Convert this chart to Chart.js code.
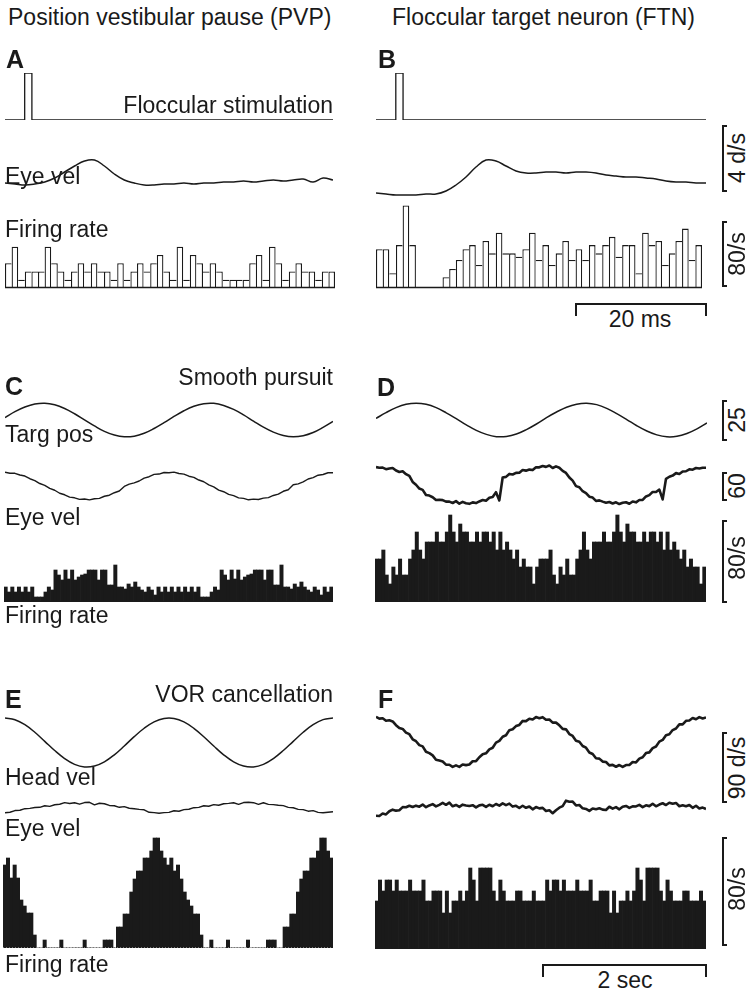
<!DOCTYPE html>
<html>
<head>
<meta charset="utf-8">
<script src="https://cdn.jsdelivr.net/npm/chart.js@4.4.1/dist/chart.umd.min.js"></script>
<style>
  html, body { margin: 0; padding: 0; background: #fff; }
  #page { position: relative; width: 750px; height: 995px; overflow: hidden; font-family: "Liberation Sans", Arial, Helvetica, sans-serif; color: #1a1a1a; }
  #page canvas { position: absolute; }
  .t { position: absolute; white-space: nowrap; font-size: 23px; line-height: 23px; }
  .b { font-weight: bold; font-size: 25px; line-height: 25px; }
  .rot { position: absolute; white-space: nowrap; font-size: 23px; line-height: 23px; transform: translate(-50%, -50%) rotate(-90deg); }
  .vb { position: absolute; border: 2px solid #1a1a1a; border-right: none; width: 5px; box-sizing: border-box; }
  .hb { position: absolute; border: 2px solid #1a1a1a; border-bottom: none; box-sizing: border-box; }
</style>
</head>
<body>
<div id="page"></div>
<script>
// ---- panels A/B: floccular stimulation, 0-50 ms, 1 ms bins ----
const stimTimes = [0, 3.0, 4.1, 50];      // ms
const stimLevels = [0, 1, 0, 0];

// eye velocity (d/s, arbitrary offset), sampled every 50/33 ms
const eyeVelA = [1.02,0.96,0.90,0.96,1.08,1.32,1.68,2.04,2.34,2.40,2.04,1.56,1.20,1.02,0.90,0.90,0.96,
                 0.96,1.02,0.96,1.02,1.02,1.08,1.08,1.14,1.08,1.14,1.20,1.14,1.20,1.26,1.08,1.32,1.20];
const eyeVelB = [0.42,0.36,0.30,0.30,0.30,0.36,0.36,0.54,0.90,1.38,1.98,2.40,2.34,2.04,1.74,1.62,1.62,
                 1.68,1.68,1.62,1.68,1.68,1.62,1.50,1.44,1.38,1.38,1.32,1.26,1.14,1.08,1.08,1.02,1.02];

// firing rate (spikes/s), 1 ms bins
const rateA = [30,50,10,20,20,20,50,30,20,10, 20,30,20,30,20,20,10,30,10,20,
               30,20,30,40,20,10,50,10,40,30, 20,30,20,10,10,10,10,30,40,10,
               50,30,10,20,30,20,20,10,20,20];
const rateB = [47,47,18,52,100,52,0,0,0,0, 13,23,34,47,52,28,57,42,67,42,
               42,38,47,67,34,52,28,42,57,34, 47,34,52,42,52,62,38,52,52,18,
               67,52,57,28,42,57,72,34,52];

// ---- panels C/D: smooth pursuit, 0-4 s ----
const targPosC = [1.5,5.2,8.1,10.0,10.5,9.5,7.2,3.9,0.1,-3.7,-7.1,-9.4,-10.5,-10.1,-8.3,-5.3,-1.7,
                  2.2,5.8,8.6,10.2,10.4,9.1,6.6,3.2,-0.7,-4.5,-7.6,-9.7,-10.5,-9.8,-7.8,-4.6,-0.9];
const targPosD = [1.0,4.6,7.7,9.8,10.5,9.8,7.7,4.5,0.8,-3.0,-6.5,-9.0,-10.4,-10.3,-8.8,-6.0,-2.5,
                  1.5,5.0,8.0,9.9,10.5,9.6,7.3,4.0,0.3,-3.6,-6.9,-9.3,-10.5,-10.2,-8.4,-5.5,-1.8];
const eyeVelC = [29.5,27.4,27.2,23.5,21.3,15.6,11.7,5.3,1.5,-5.1,-9.1,-15.5,-18.8,-23.9,-25.3,-28.7,-27.8,
                 -29.8,-27.3,-26.5,-22.0,-19.8,-14.4,-10.7,-1.0,4.0,6.8,10.7,17.0,19.9,24.8,25.6,28.9,28.3,
                 29.7,26.7,25.5,21.0,18.6,12.8,9.1,2.4,-2.0,-8.8,-12.3,-18.0,-20.6,-25.5,-26.6,-29.6,-28.2,
                 -28.9,-25.9,-24.8,-20.3,-17.4,-11.3,-8.0,2.7,4.6,8.7,15.0,18.0,23.1,24.7,28.4,28.4];
const eyeVelD = [40.5,39.1,39.3,36.1,37.6,38.7,33.2,30.1,31.5,25.3,21.5,8.8,2.7,-5.5,-8.3,-19.2,-20.5,-24.1,-30.1,-29.6,
                 -30.2,-33.4,-33.5,-36.4,-32.4,-37.9,-34.1,-37.1,-38.2,-35.1,-36.6,-33.1,-30.1,-31.6,-25.2,-23.5,-13.3,-30.9,18.3,19.5,
                 25.9,24.6,28.1,28.3,34.2,32.9,35.1,34.1,40.1,40.0,42.7,41.0,43.9,38.6,42.0,39.0,32.3,28.0,18.1,11.5,
                 -0.3,-2.7,-11.2,-15.2,-22.9,-24.8,-32.0,-30.8,-33.5,-35.9,-34.3,-37.5,-34.9,-38.7,-36.0,-34.7,-38.0,-33.1,-35.0,-30.1,
                 -29.7,-22.3,-19.6,-12.7,-12.8,-7.8,-28.7,15.4,19.8,22.3,27.6,25.8,31.1,31.6,35.8,34.9,38.5,37.6,39.2,39.1];
const rateC = [15,10,15,10,15,10,15,10,15,5, 5,5,10,15,12,32,27,22,32,23, 32,22,25,27,28,32,32,32,22,32,
               32,17,17,37,15,15,13,18,15,20, 15,12,10,15,12,7,15,10,15,10,
               15,10,15,10,15,10,15,10,15,5, 5,5,10,15,12,32,27,22,32,23, 32,22,25,27,28,32,32,32,22,32,
               32,17,17,37,15,15,13,18,15,20, 15,12,10,15,12,7,15,10,15];
const rateD = [43,43,52,27,18,35,27,43,27,27, 43,52,70,52,43,60,60,60,70,60, 60,70,87,70,60,78,70,70,60,60,
               70,60,70,70,60,70,52,70,52,60, 52,43,52,35,43,35,35,18,35,43,
               43,43,52,27,18,35,27,43,27,27, 43,52,70,52,43,60,60,60,70,60, 60,70,87,70,60,78,70,70,60,60,
               70,60,70,70,60,70,52,70,52,60, 52,43,52,35,43,35,35,18,35];

// ---- panels E/F: VOR cancellation, 0-4 s ----
const headVelE = [31.5,29.2,22.8,13.1,1.5,-10.3,-20.6,-28.0,-31.4,-30.2,-24.8,-15.8,-4.5,7.5,18.3,26.5,30.9,
                  30.9,26.5,18.2,7.4,-4.5,-15.8,-24.8,-30.2,-31.4,-28.0,-20.6,-10.3,1.5,13.1,22.8,29.3,31.5];
const eyeVelE = [-6.1,-5.5,-3.3,-2.9,-0.9,-0.5,0.6,0.9,2.9,2.1,4.2,4.8,6.9,5.8,6.7,4.9,7.0,7.3,4.0,6.1,
                 5.5,3.3,2.9,0.9,1.8,-0.3,-0.9,-1.8,-2.3,-5.5,-5.9,-6.7,-6.0,-5.6,-3.5,-4.2,-2.1,-1.6,0.4,0.8,
                 2.9,2.2,4.3,3.5,5.5,5.9,6.7,4.7,7.0,7.4,6.8,4.6,6.7,4.7,4.3,3.5,3.0,0.8,0.3,-1.7,
                 -2.1,-4.1,-3.4,-5.6,-6.1,-5.5,-4.9];
const headVelF = [32.2,29.9,30.4,27.2,27.8,26.4,21.5,17.9,16.8,12.1,10.0,3.5,1.0,-4.0,-5.6,-12.5,-14.2,-17.1,-22.8,-23.8,
                  -25.0,-29.0,-29.1,-31.9,-29.9,-31.8,-28.8,-29.6,-28.8,-24.6,-24.6,-19.5,-15.7,-14.5,-9.4,-7.4,-0.8,1.4,6.8,8.6,
                  15.2,16.4,20.4,21.9,27.0,26.7,29.8,28.8,31.9,30.5,31.8,28.5,28.8,24.8,24.8,21.4,16.8,16.2,10.2,7.7,
                  1.7,0.4,-5.1,-7.3,-13.4,-15.4,-20.8,-21.3,-25.1,-25.6,-29.9,-29.3,-31.7,-29.5,-32.0,-29.5,-29.5,-25.7,-26.2,-21.3,
                  -19.5,-14.2,-13.3,-7.8,-5.8,0.5,2.7,8.8,10.0,15.3,17.3,22.6,22.6,27.2,27.6,30.8,29.1,31.9,30.2,31.4];
const eyeVelF = [-10.0,-10.2,-7.1,-8.2,-4.2,-2.1,-3.4,-2.8,1.1,1.0,2.9,1.2,3.0,1.7,4.4,1.0,3.3,5.0,2.1,4.1,
                 6.5,4.1,6.9,2.2,3.9,1.5,4.3,3.3,2.5,3.6,0.8,3.4,4.1,1.4,4.2,2.2,5.1,3.1,6.0,3.7,
                 5.6,1.8,2.8,0.0,2.9,0.3,2.0,-1.7,1.2,-0.5,0.2,-3.9,-3.0,-6.7,-2.8,0.4,2.4,9.4,8.1,8.3,
                 3.3,3.8,-0.4,-1.2,-3.7,-0.6,-1.5,-0.3,-2.1,-2.6,1.6,-0.8,1.1,-1.7,1.6,2.6,0.1,2.1,2.0,4.1,
                 1.2,3.5,2.4,5.5,2.2,4.4,6.1,3.8,6.8,5.5,6.5,2.3,3.4,2.2,3.8,0.2,2.9,-0.7,0.5,-1.2];
const rateE = [83,90,70,83,70,48,42,35,35,13, 0,0,8,0,0,0,0,8,0,0, 0,0,0,0,8,0,0,0,0,0,
               8,8,8,0,21,21,34,34,56,69, 77,77,90,90,97,110,110,97,90,83,
               90,77,83,69,56,48,42,34,34,13, 0,0,8,0,0,0,0,8,0,0, 0,0,0,8,0,0,0,0,0,8,
               8,8,0,0,21,21,34,34,56,69, 77,77,90,90,97,110,110,97,90];
const rateF = [48,69,58,69,69,58,69,58,58,58, 69,58,58,58,69,48,48,58,58,58, 36,58,36,48,48,58,48,58,81,69,
               48,81,81,81,81,58,48,69,58,48, 48,48,58,58,48,48,48,58,48,48,
               48,69,58,69,69,58,69,58,58,58, 69,58,58,58,69,48,48,58,58,58, 36,58,36,48,48,58,48,58,81,69,
               48,81,81,81,81,58,48,69,58,48, 48,48,58,58,48,48,48,58,48];

const INK = '#1a1a1a';
const PAD = 4;
const page = document.getElementById('page');

Chart.register({
  id: 'baseline',
  defaults: { show: false, color: INK, width: 1.3, dash: [] },
  afterDatasetsDraw(chart, args, opts) {
    if (!opts.show) return;
    const { ctx, chartArea } = chart;
    const y = Math.round(chart.scales.y.getPixelForValue(0)) - 0.5;
    ctx.save();
    ctx.strokeStyle = opts.color;
    ctx.lineWidth = opts.width;
    ctx.setLineDash(opts.dash);
    ctx.beginPath();
    ctx.moveTo(chartArea.left, y);
    ctx.lineTo(chartArea.right, y);
    ctx.stroke();
    ctx.restore();
  }
});

function makeCanvas(box) {
  const c = document.createElement('canvas');
  c.width = box.w + 2 * PAD;
  c.height = box.h + 2 * PAD;
  c.style.left = (box.x - PAD) + 'px';
  c.style.top = (box.y - PAD) + 'px';
  page.appendChild(c);
  return c;
}

function baseOptions(xScale, yMin, yMax, extra) {
  return {
    responsive: false,
    animation: false,
    devicePixelRatio: 1,
    events: [],
    layout: { padding: PAD },
    plugins: { legend: { display: false }, tooltip: { enabled: false }, baseline: extra || {} },
    scales: { x: xScale, y: { display: false, min: yMin, max: yMax } }
  };
}

// line trace, samples evenly spread over [0, tMax]
function trace(box, tMax, yMin, yMax, values, width, tension) {
  const pts = values.map((v, i) => ({ x: i * tMax / (values.length - 1), y: v }));
  new Chart(makeCanvas(box), {
    type: 'line',
    data: { datasets: [{ data: pts, borderColor: INK, borderWidth: width, pointRadius: 0, tension: tension,
                         fill: false, borderJoinStyle: 'round' }] },
    options: baseOptions({ type: 'linear', display: false, min: 0, max: tMax }, yMin, yMax)
  });
}

function stim(box) {
  const pts = stimTimes.map((t, i) => ({ x: t, y: stimLevels[i] }));
  new Chart(makeCanvas(box), {
    type: 'line',
    data: { datasets: [{ data: pts, borderColor: INK, borderWidth: 1.3, pointRadius: 0, stepped: true, fill: false }] },
    options: baseOptions({ type: 'linear', display: false, min: 0, max: 50 }, 0, 1)
  });
}

// open histogram: each shared edge is drawn once, by the taller of the two bars
function histOpen(box, yMax, values) {
  const n = values.length;
  const w = 1.3;
  new Chart(makeCanvas(box), {
    type: 'bar',
    data: { labels: values.map((v, i) => i), datasets: [{
      data: values, backgroundColor: '#fff', borderColor: INK,
      borderWidth: ctx => {
        const i = ctx.dataIndex, d = values;
        return {
          top: w, bottom: 0,
          left: (i === 0 || d[i] >= d[i - 1]) ? w : 0,
          right: (i === n - 1 || d[i] > d[i + 1]) ? w : 0
        };
      },
      borderSkipped: false,
      barPercentage: 1, categoryPercentage: 1, inflateAmount: 0
    }] },
    options: baseOptions({ display: false }, 0, yMax, { show: true })
  });
}

function histFilled(box, yMax, values, base) {
  new Chart(makeCanvas(box), {
    type: 'bar',
    data: { labels: values.map((v, i) => i), datasets: [{
      data: values, backgroundColor: INK, borderWidth: 0,
      barPercentage: 1, categoryPercentage: 1
    }] },
    options: baseOptions({ display: false }, 0, yMax, base || { show: true, width: 1 })
  });
}

// ---- draw the traces ----
stim({ x: 5, y: 73, w: 328, h: 47 });
stim({ x: 376, y: 73, w: 330, h: 47 });
trace({ x: 5, y: 150, w: 328, h: 50 }, 50, 0, 3, eyeVelA, 1.5, 0.4);
trace({ x: 376, y: 150, w: 330, h: 50 }, 50, 0, 3, eyeVelB, 1.5, 0.4);
histOpen({ x: 5, y: 200, w: 330, h: 88 }, 106.7, rateA);
histOpen({ x: 376, y: 200, w: 326, h: 88 }, 106.7, rateB);

trace({ x: 5, y: 395, w: 328, h: 50 }, 4, -15.625, 15.625, targPosC, 1.5, 0.4);
trace({ x: 376, y: 395, w: 331, h: 50 }, 4, -15.625, 15.625, targPosD, 1.5, 0.4);
trace({ x: 5, y: 460, w: 328, h: 52 }, 4, -55.7, 55.7, eyeVelC, 1.4, 0);
trace({ x: 376, y: 460, w: 330, h: 52 }, 4, -55.7, 55.7, eyeVelD, 2.6, 0);
histFilled({ x: 4, y: 502, w: 329, h: 100 }, 100, rateC);
histFilled({ x: 375, y: 502, w: 331, h: 100 }, 100, rateD);

trace({ x: 5, y: 700, w: 328, h: 85 }, 4, -54.5, 54.5, headVelE, 1.5, 0.4);
trace({ x: 376, y: 700, w: 330, h: 84 }, 4, -53.8, 53.8, headVelF, 2.6, 0);
trace({ x: 5, y: 790, w: 328, h: 36 }, 4, -23.1, 23.1, eyeVelE, 1.4, 0);
trace({ x: 376, y: 790, w: 330, h: 36 }, 4, -23.1, 23.1, eyeVelF, 2.6, 0);
histFilled({ x: 3, y: 830, w: 330, h: 118 }, 118, rateE, { show: true, width: 1, color: '#777', dash: [1, 2] });
histFilled({ x: 375, y: 830, w: 331, h: 119 }, 119, rateF);

// ---- text and scale bars ----
function text(str, x, baseline, opt) {
  opt = opt || {};
  const d = document.createElement('div');
  d.className = 't' + (opt.bold ? ' b' : '');
  d.textContent = str;
  const size = opt.bold ? 25 : 23;
  d.style.top = (baseline - 0.8465 * size) + 'px';
  if (opt.right) d.style.right = (750 - x) + 'px';
  else if (opt.center) { d.style.left = x + 'px'; d.style.transform = 'translateX(-50%)'; }
  else d.style.left = x + 'px';
  page.appendChild(d);
}
function rotText(str, cx, cy) {
  const d = document.createElement('div');
  d.className = 'rot';
  d.textContent = str;
  d.style.left = cx + 'px';
  d.style.top = cy + 'px';
  page.appendChild(d);
}
function vBar(x, top, bottom) {
  const d = document.createElement('div');
  d.className = 'vb';
  d.style.left = x + 'px'; d.style.top = top + 'px'; d.style.height = (bottom - top) + 'px';
  page.appendChild(d);
}
function hBar(x1, x2, y, tick) {
  const d = document.createElement('div');
  d.className = 'hb';
  d.style.left = x1 + 'px'; d.style.top = y + 'px';
  d.style.width = (x2 - x1) + 'px'; d.style.height = tick + 'px';
  page.appendChild(d);
}

text('Position vestibular pause (PVP)', 8, 25);
text('Floccular target neuron (FTN)', 392, 25);
text('A', 6, 68, { bold: true });
text('B', 378, 68, { bold: true });
text('Floccular stimulation', 333, 113, { right: true });
text('Eye vel', 5, 184);
text('Firing rate', 5, 237);

text('C', 5, 395, { bold: true });
text('D', 377, 396, { bold: true });
text('Smooth pursuit', 333, 385, { right: true });
text('Targ pos', 5, 442);
text('Eye vel', 5, 525);
text('Firing rate', 5, 623);

text('E', 5, 708, { bold: true });
text('F', 378, 708, { bold: true });
text('VOR cancellation', 333, 702, { right: true });
text('Head vel', 5, 785);
text('Eye vel', 5, 836);
text('Firing rate', 5, 972);

vBar(722, 125, 192); rotText('4 d/s', 737, 158);
vBar(722, 221, 287); rotText('80/s', 737, 254);
hBar(575, 707, 303, 13); text('20 ms', 640, 327, { center: true });

vBar(722, 400, 441); rotText('25', 737, 420);
vBar(722, 472, 501); rotText('60', 737, 486);
vBar(722, 520, 603); rotText('80/s', 737, 558);

vBar(722, 732, 803); rotText('90 d/s', 737, 768);
vBar(722, 837, 946); rotText('80/s', 737, 889);
hBar(542, 707, 964, 13); text('2 sec', 625, 988, { center: true });
</script>
</body>
</html>
